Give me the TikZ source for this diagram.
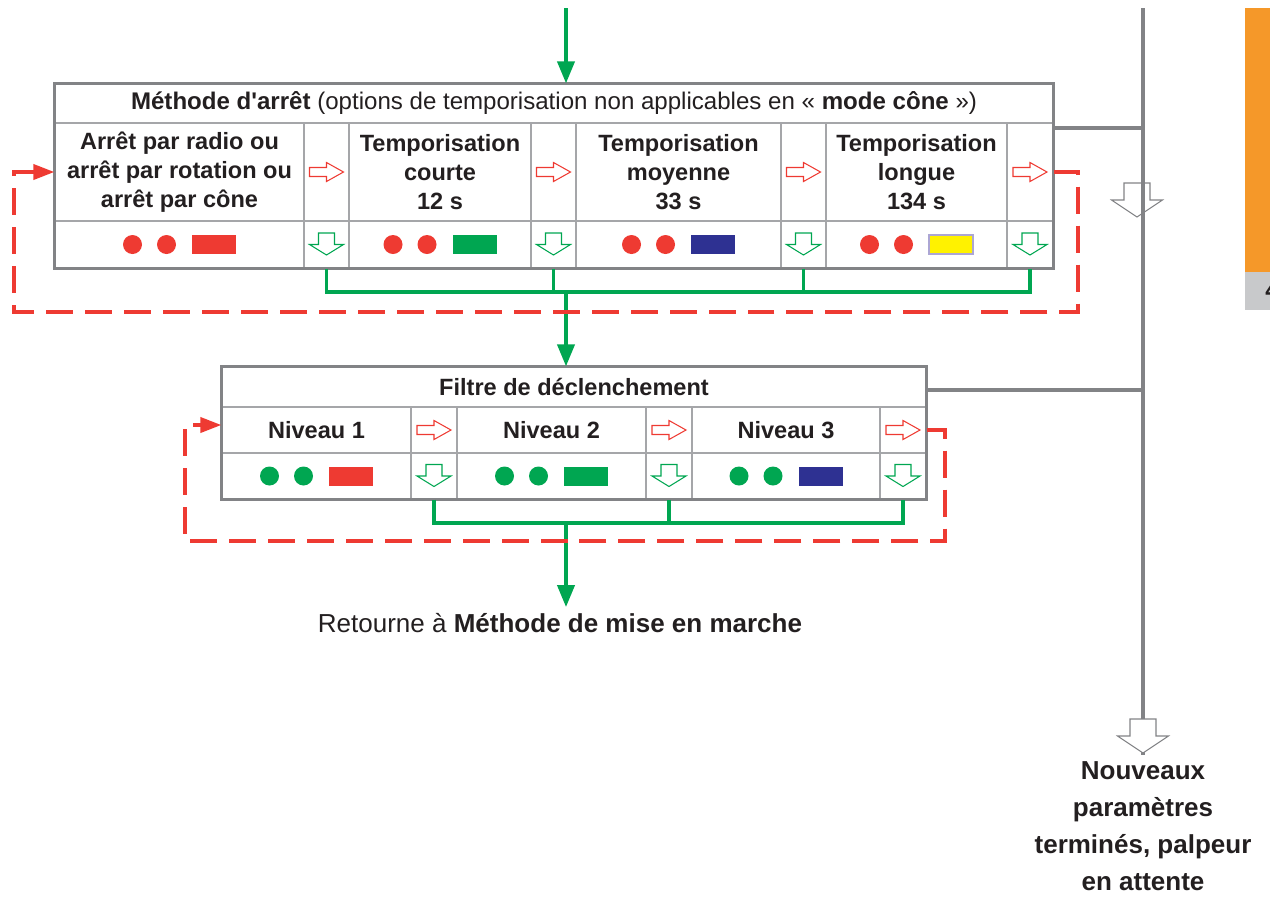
\documentclass[tikz,border=0pt]{standalone}
\usepackage{fontspec}
\setmainfont{Liberation Sans}[Ligatures=TeXOff]
\usetikzlibrary{arrows.meta,calc}

\definecolor{rouge}{RGB}{238,58,50}
\definecolor{vert}{RGB}{0,166,81}
\definecolor{bleu}{RGB}{46,49,146}
\definecolor{jaune}{RGB}{255,242,0}
\definecolor{lavande}{RGB}{172,166,212}
\definecolor{gris}{RGB}{130,131,134}
\definecolor{grisclair}{RGB}{165,166,169}
\definecolor{grisfond}{RGB}{200,201,203}
\definecolor{orangevif}{RGB}{245,152,41}
\definecolor{encre}{RGB}{35,31,32}

\newcommand{\cellfont}{\fontsize{13.4}{16.5}\selectfont\bfseries}
\newcommand{\grandfont}{\fontsize{14.8}{21}\selectfont}

\begin{document}
\begin{tikzpicture}[x=0.02cm, y=-0.02cm,
    cell/.style={draw=grisclair, line width=0.7pt, inner sep=0pt, align=center, text=encre, font=\cellfont},
    cadre/.style={draw=gris, line width=1.5pt},
    liaison/.style={draw=vert, line width=1.9pt},
    fleche/.style={draw=vert, line width=2.2pt, -{Triangle[length=0.44cm,width=0.34cm]}},
    boucle/.style={draw=rouge, line width=2.1pt, dash pattern=on 0.54cm off 0.24cm, -{Triangle[length=0.42cm,width=0.3cm]}},
    rail/.style={draw=gris, line width=2.3pt},
    pics/flecheD/.style={code={
      \draw[rouge, line width=0.6pt] (-17,-4.5) -- (0,-4.5) -- (0,-9.5) -- (17,0) -- (0,9.5) -- (0,4.5) -- (-17,4.5) -- cycle;}},
    pics/flecheB/.style={code={
      \draw[vert, line width=0.6pt] (-8,-11.5) -- (8,-11.5) -- (8,0) -- (17,0) -- (0,10.5) -- (-17,0) -- (-8,0) -- cycle;}},
    pics/flecheG/.style={code={
      \draw[gris, line width=0.6pt, fill=#1] (-13,-34) -- (13,-34) -- (13,-17) -- (25.5,-17) -- (0,0) -- (-25.5,-17) -- (-13,-17) -- cycle;}},
    pics/voyants/.style 2 args={code={
      \fill[#1] (-47,0) circle (0.19cm) (-13,0) circle (0.19cm);
      \path[#2] (12.5,-9.5) rectangle (56.5,9.5);}}
]
\useasboundingbox (0,0) rectangle (1270,897);

% Methode d'arret
\node[cell, minimum width=19.96cm, minimum height=0.78cm, font=\fontsize{13.7}{16.5}\selectfont] (entete1) at (554,103.5)
  {\textbf{Méthode d'arrêt} (options de temporisation non applicables en « \textbf{mode cône} »)};
\node[cell, minimum width=4.98cm, minimum height=1.96cm] (t1) at (179.5,172) {Arrêt par radio ou\\arrêt par rotation ou\\arrêt par cône};
\node[cell, minimum width=3.64cm, minimum height=1.96cm] (t2) at (440,172) {Temporisation\\courte\\12 s};
\node[cell, minimum width=4.10cm, minimum height=1.96cm] (t3) at (678.5,172) {Temporisation\\moyenne\\33 s};
\node[cell, minimum width=3.62cm, minimum height=1.96cm] (t4) at (916.5,172) {Temporisation\\longue\\134 s};
\foreach \i/\cx/\w in {1/179.5/4.98cm, 2/440/3.64cm, 3/678.5/4.10cm, 4/916.5/3.62cm}
  \node[cell, minimum width=\w, minimum height=0.94cm] (v\i) at (\cx,244.5) {};
\foreach \i/\cx/\w in {1/326.5/0.9cm, 2/553.5/0.9cm, 3/803.5/0.9cm, 4/1030/0.92cm} {
  \node[cell, minimum width=\w, minimum height=1.96cm] (a\i) at (\cx,172) {};
  \node[cell, minimum width=\w, minimum height=0.94cm] (b\i) at (\cx,244.5) {};
  \pic at (a\i) {flecheD};
  \pic at (b\i) {flecheB};
}
\pic at (v1) {voyants={rouge}{fill=rouge}};
\pic at (v2) {voyants={rouge}{fill=vert}};
\pic at (v3) {voyants={rouge}{fill=bleu}};
\pic at (v4) {voyants={rouge}{fill=jaune, draw=lavande, line width=1.1pt}};
\draw[cadre] (entete1.north west) rectangle (b4.south east);

% Filtre de declenchement
\node[cell, minimum width=14.08cm, minimum height=0.8cm] (entete2) at (574,387) {Filtre de déclenchement};
\foreach \i/\cx/\w in {1/316.5/3.78cm, 2/551.5/3.78cm, 3/786/3.76cm} {
  \node[cell, minimum width=\w, minimum height=0.92cm] (n\i) at (\cx,430) {Niveau \i};
  \node[cell, minimum width=\w, minimum height=0.92cm] (w\i) at (\cx,476) {};
}
\foreach \i/\cx in {1/434, 2/669, 3/903} {
  \node[cell, minimum width=0.92cm, minimum height=0.92cm] (c\i) at (\cx,430) {};
  \node[cell, minimum width=0.92cm, minimum height=0.92cm] (d\i) at (\cx,476) {};
  \pic at (c\i) {flecheD};
  \pic at (d\i) {flecheB};
}
\pic at (w1) {voyants={vert}{fill=rouge}};
\pic at (w2) {voyants={vert}{fill=vert}};
\pic at (w3) {voyants={vert}{fill=bleu}};
\draw[cadre] (entete2.north west) rectangle (d3.south east);

\node[font=\grandfont, text=encre] (retour) at (560,623) {Retourne à \textbf{Méthode de mise en marche}};
\node[font=\grandfont\bfseries, text=encre, align=center] (fin) at (1143,826) {Nouveaux\\paramètres\\terminés, palpeur\\en attente};

% liaisons vertes
\coordinate (depart) at (566,8);
\coordinate (bus1) at (566,292);
\coordinate (bus2) at (566,523);
\draw[fleche] (depart) -- (depart |- entete1.north);
\draw[liaison] (b1.south) |- (b4.south |- bus1) -- (b4.south);
\draw[liaison] (b2.south) -- (b2.south |- bus1);
\draw[liaison] (b3.south) -- (b3.south |- bus1);
\draw[fleche] (bus1) -- (bus1 |- entete2.north);
\draw[liaison] (d1.south) |- (d3.south |- bus2) -- (d3.south);
\draw[liaison] (d2.south) -- (d2.south |- bus2);
\draw[fleche] (bus2) -- (bus2 |- retour.north);

% boucles rouges
\draw[boucle] (a4.east) -| (1078,312) -| (14,172) -- (t1.west);
\draw[boucle] (c3.east) -| (945,541) -| (185,425) -- (n1.west |- 185,425);

% rail gris
\coordinate (haut) at (1143,8);
\draw[rail] (haut) -- (haut |- fin.north);
\draw[rail] (entete1.east |- 0,128) -- (haut |- 0,128);
\draw[rail] (entete2.east |- 0,390) -- (haut |- 0,390);
\pic at (1137,217) {flecheG=none};
\pic at (1143,753) {flecheG=white};

% onglet
\fill[orangevif] (1245,8) rectangle (1290,272);
\fill[grisfond] (1245,272) rectangle (1290,310);
\node[anchor=west, inner sep=0pt, font=\fontsize{13.5}{16}\selectfont\bfseries, text=encre] (onglet) at (1265,290) {4};
\end{tikzpicture}
\end{document}
